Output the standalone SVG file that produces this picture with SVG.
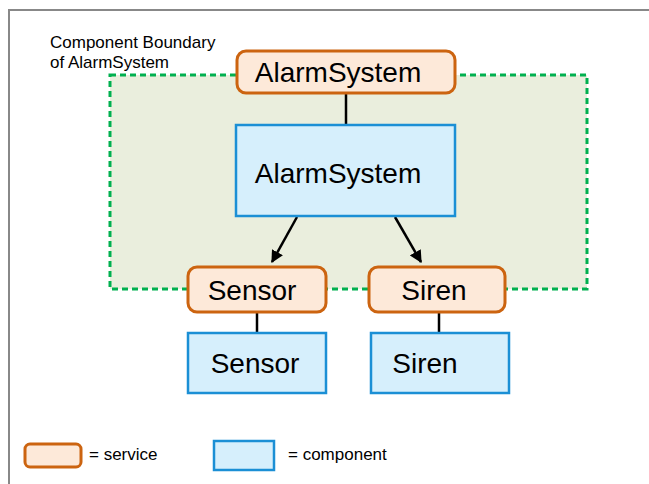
<svg xmlns="http://www.w3.org/2000/svg" width="649" height="484" viewBox="0 0 649 484">
  <style>
    .svc { fill: #fde9d9; stroke: #cc6410; stroke-width: 3; }
    .cmp { fill: #d6effc; stroke: #1b8fd5; stroke-width: 2.5; }
    .big { font-family: "Liberation Sans", Arial, sans-serif; font-size: 28px; fill: #000; text-anchor: middle; }
    .small { font-family: "Liberation Sans", Arial, sans-serif; font-size: 17px; fill: #000; }
    .link { stroke: #000; stroke-width: 2.5; fill: none; }
  </style>
  <defs>
    <marker id="arrow" viewBox="0 0 10 10" refX="9" refY="5" markerWidth="5" markerHeight="5" orient="auto" markerUnits="strokeWidth">
      <path d="M0,0 L10,5 L0,10 z" fill="#000"/>
    </marker>
  </defs>

  <rect x="0" y="0" width="649" height="484" fill="#fff"/>
  <!-- outer frame -->
  <rect x="9" y="10" width="660" height="500" fill="none" stroke="#888" stroke-width="2"/>

  <!-- component boundary -->
  <g id="boundary">
    <rect x="110" y="75" width="477" height="214" fill="#eaeedd" stroke="#00b04f" stroke-width="3" stroke-dasharray="6,4"/>
    <text class="small" x="50" y="48">Component Boundary</text>
    <text class="small" x="50" y="68">of AlarmSystem</text>
  </g>

  <g id="connectors">
    <line class="link" x1="346" y1="93" x2="346" y2="124"/>
    <line class="link" x1="297" y1="217" x2="272" y2="262" marker-end="url(#arrow)"/>
    <line class="link" x1="395" y1="217" x2="421" y2="262" marker-end="url(#arrow)"/>
    <line class="link" x1="257" y1="312" x2="257" y2="332"/>
    <line class="link" x1="439" y1="312" x2="439" y2="332"/>
  </g>

  <g id="svc-alarm">
    <rect class="svc" x="237" y="51" width="218" height="42" rx="9"/>
    <text class="big" x="338" y="82">AlarmSystem</text>
  </g>
  <g id="cmp-alarm">
    <rect class="cmp" x="236" y="125" width="219" height="91"/>
    <text class="big" x="338" y="183">AlarmSystem</text>
  </g>
  <g id="svc-sensor">
    <rect class="svc" x="188" y="267" width="138" height="45" rx="9"/>
    <text class="big" x="252" y="300">Sensor</text>
  </g>
  <g id="svc-siren">
    <rect class="svc" x="369" y="267" width="136" height="45" rx="9"/>
    <text class="big" x="434" y="300">Siren</text>
  </g>
  <g id="cmp-sensor">
    <rect class="cmp" x="188" y="333" width="138" height="60"/>
    <text class="big" x="255" y="373">Sensor</text>
  </g>
  <g id="cmp-siren">
    <rect class="cmp" x="371" y="333" width="138" height="60"/>
    <text class="big" x="425" y="373">Siren</text>
  </g>

  <g id="legend">
    <rect class="svc" x="25" y="444" width="56" height="23" rx="5"/>
    <text class="small" x="89" y="460">= service</text>
    <rect class="cmp" x="214" y="441" width="60" height="29"/>
    <text class="small" x="288" y="460">= component</text>
  </g>
</svg>
